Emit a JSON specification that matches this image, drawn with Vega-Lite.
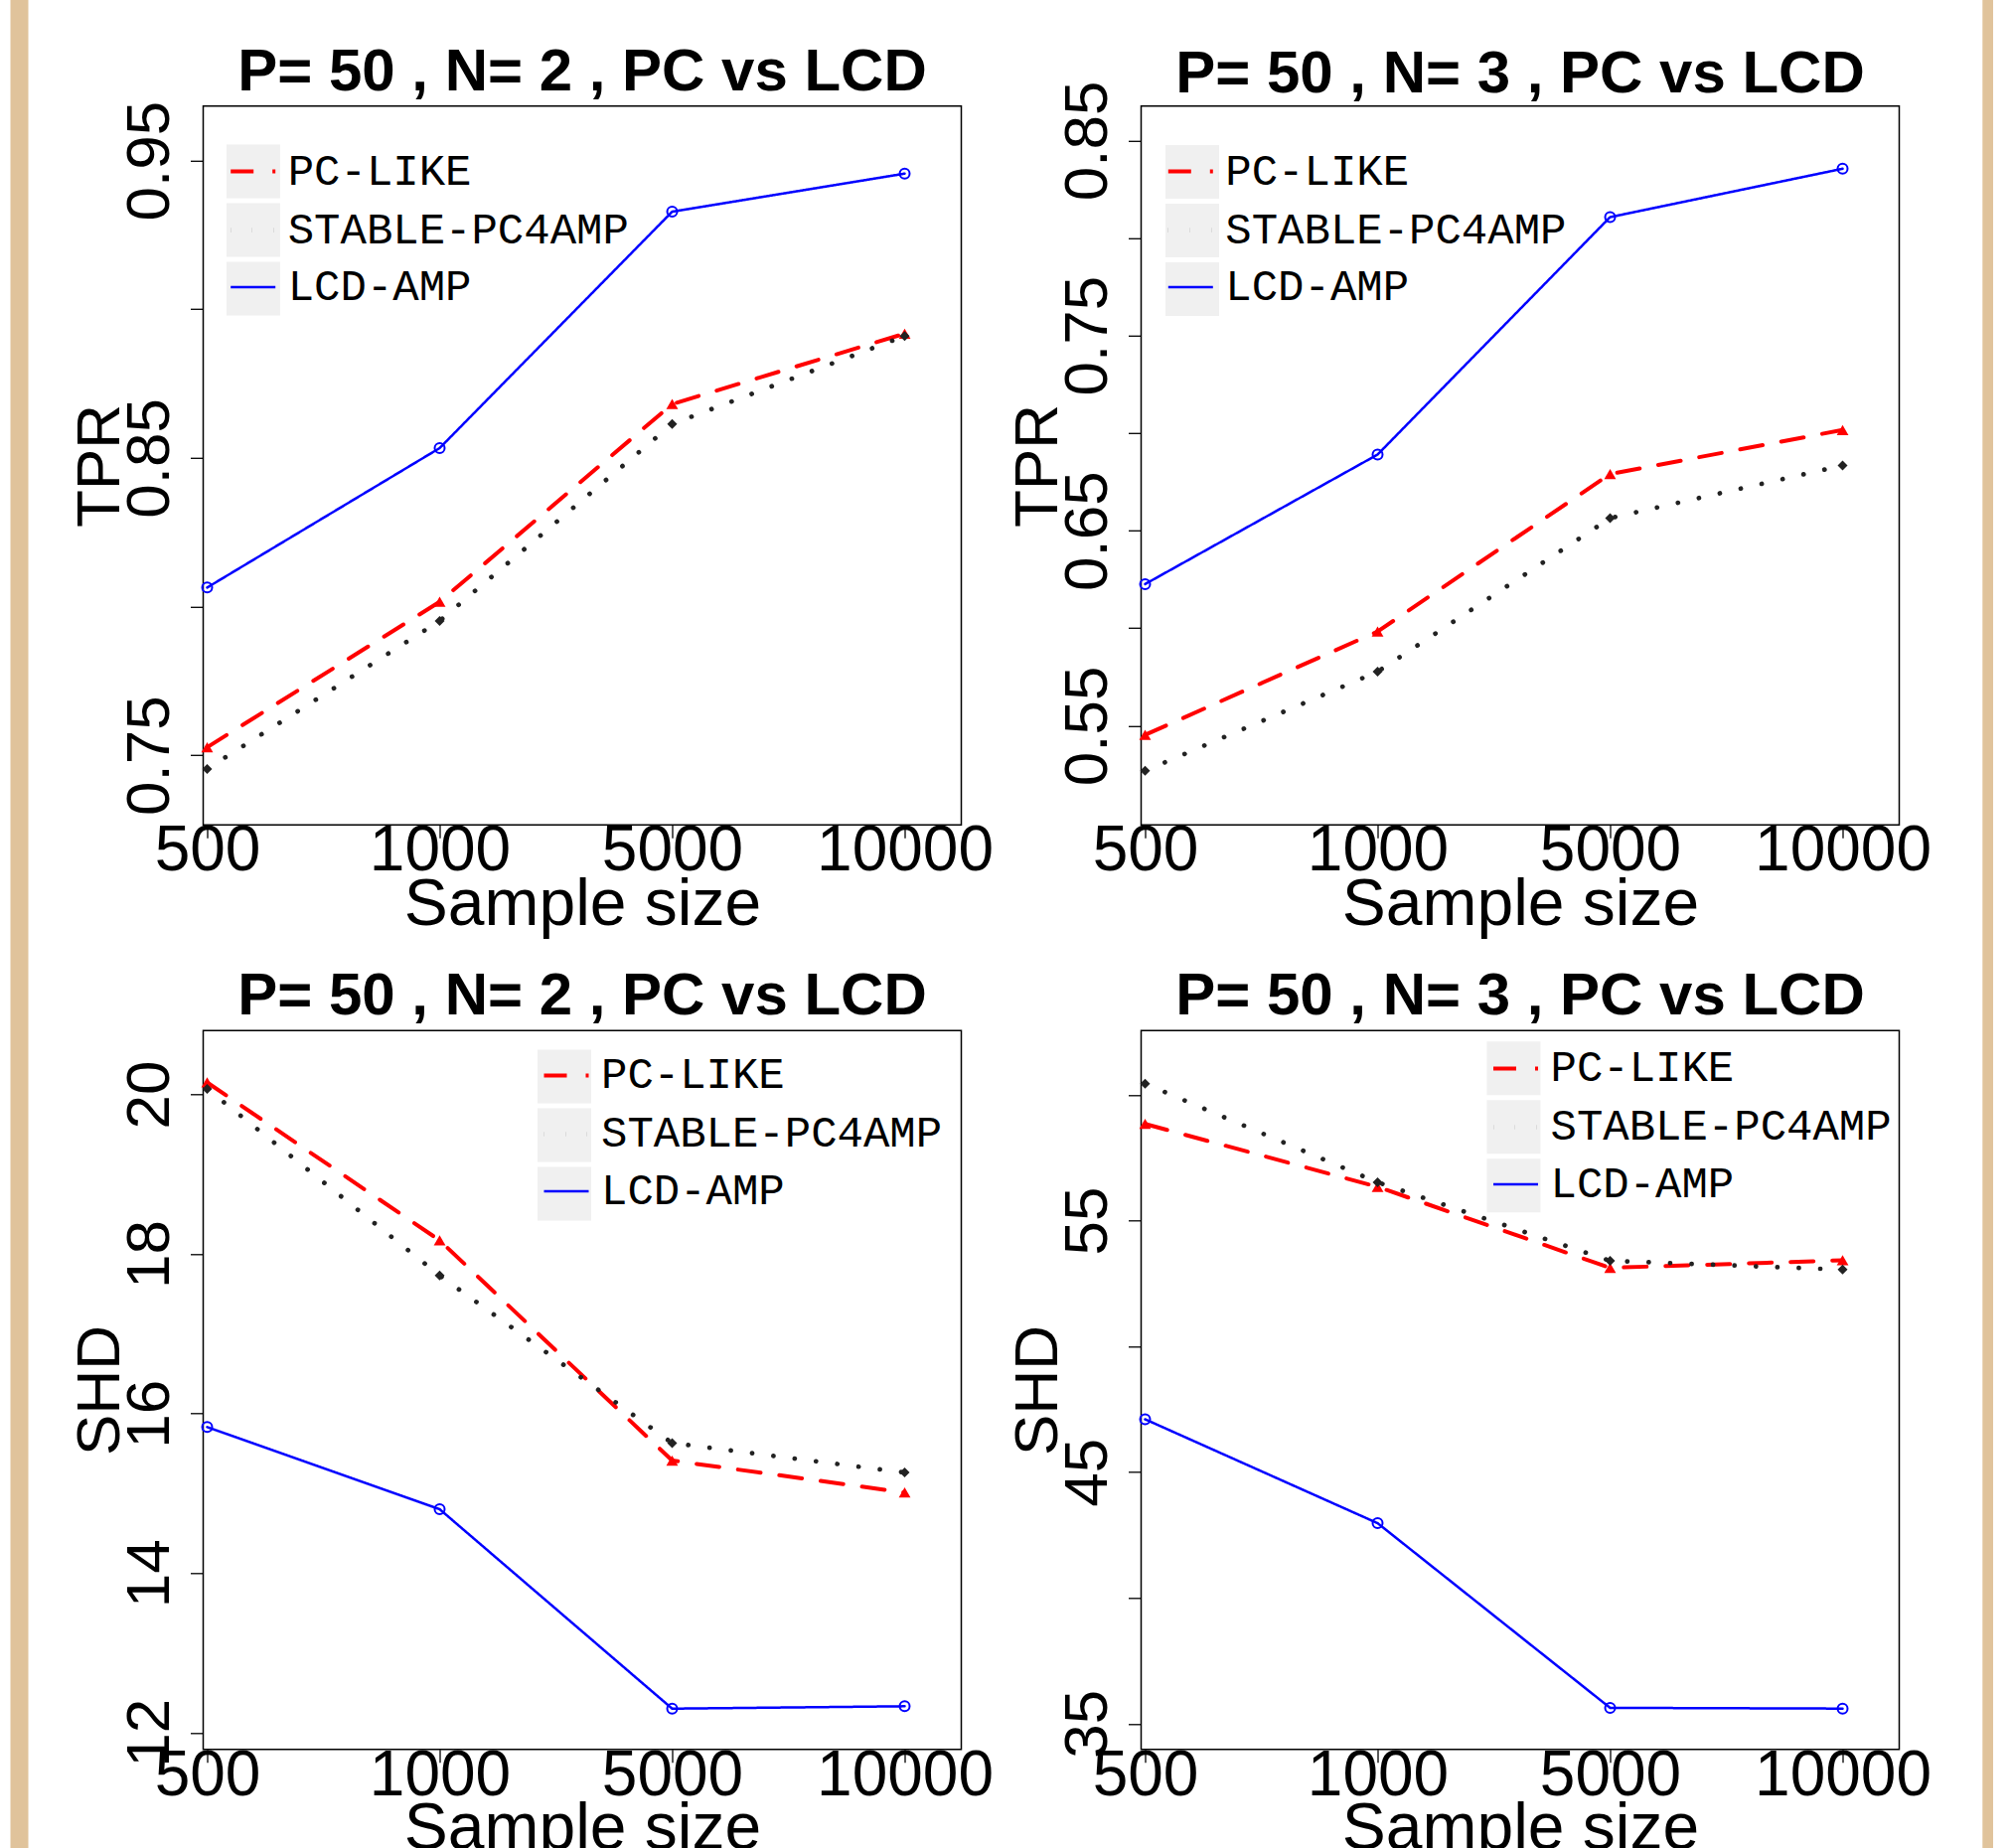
{
  "$schema": "https://vega.github.io/schema/vega-lite/v6.json",
  "padding": {"left": 17.5, "top": 41.8, "right": 0, "bottom": 0},
  "background": "white",
  "datasets": {
    "tpr2": [
      {"size": 500, "method": "PC-LIKE", "value": 0.7527},
      {"size": 1000, "method": "PC-LIKE", "value": 0.8016},
      {"size": 5000, "method": "PC-LIKE", "value": 0.8681},
      {"size": 10000, "method": "PC-LIKE", "value": 0.8918},
      {"size": 500, "method": "STABLE-PC4AMP", "value": 0.7454},
      {"size": 1000, "method": "STABLE-PC4AMP", "value": 0.7952},
      {"size": 5000, "method": "STABLE-PC4AMP", "value": 0.8614},
      {"size": 10000, "method": "STABLE-PC4AMP", "value": 0.8910},
      {"size": 500, "method": "LCD-AMP", "value": 0.8064},
      {"size": 1000, "method": "LCD-AMP", "value": 0.8533},
      {"size": 5000, "method": "LCD-AMP", "value": 0.9328},
      {"size": 10000, "method": "LCD-AMP", "value": 0.9456}
    ],
    "tpr3": [
      {"size": 500, "method": "PC-LIKE", "value": 0.5453},
      {"size": 1000, "method": "PC-LIKE", "value": 0.5983},
      {"size": 5000, "method": "PC-LIKE", "value": 0.6790},
      {"size": 10000, "method": "PC-LIKE", "value": 0.7016},
      {"size": 500, "method": "STABLE-PC4AMP", "value": 0.5269},
      {"size": 1000, "method": "STABLE-PC4AMP", "value": 0.5777},
      {"size": 5000, "method": "STABLE-PC4AMP", "value": 0.6564},
      {"size": 10000, "method": "STABLE-PC4AMP", "value": 0.6834},
      {"size": 500, "method": "LCD-AMP", "value": 0.6226},
      {"size": 1000, "method": "LCD-AMP", "value": 0.6890},
      {"size": 5000, "method": "LCD-AMP", "value": 0.8107},
      {"size": 10000, "method": "LCD-AMP", "value": 0.8355}
    ],
    "shd2": [
      {"size": 500, "method": "PC-LIKE", "value": 20.15},
      {"size": 1000, "method": "PC-LIKE", "value": 18.17},
      {"size": 5000, "method": "PC-LIKE", "value": 15.41},
      {"size": 10000, "method": "PC-LIKE", "value": 15.01},
      {"size": 500, "method": "STABLE-PC4AMP", "value": 20.07},
      {"size": 1000, "method": "STABLE-PC4AMP", "value": 17.73},
      {"size": 5000, "method": "STABLE-PC4AMP", "value": 15.63},
      {"size": 10000, "method": "STABLE-PC4AMP", "value": 15.26},
      {"size": 500, "method": "LCD-AMP", "value": 15.83},
      {"size": 1000, "method": "LCD-AMP", "value": 14.80},
      {"size": 5000, "method": "LCD-AMP", "value": 12.30},
      {"size": 10000, "method": "LCD-AMP", "value": 12.33}
    ],
    "shd3": [
      {"size": 500, "method": "PC-LIKE", "value": 58.84},
      {"size": 1000, "method": "PC-LIKE", "value": 56.34},
      {"size": 5000, "method": "PC-LIKE", "value": 53.12},
      {"size": 10000, "method": "PC-LIKE", "value": 53.42},
      {"size": 500, "method": "STABLE-PC4AMP", "value": 60.44},
      {"size": 1000, "method": "STABLE-PC4AMP", "value": 56.52},
      {"size": 5000, "method": "STABLE-PC4AMP", "value": 53.40},
      {"size": 10000, "method": "STABLE-PC4AMP", "value": 53.05},
      {"size": 500, "method": "LCD-AMP", "value": 47.10},
      {"size": 1000, "method": "LCD-AMP", "value": 42.97},
      {"size": 5000, "method": "LCD-AMP", "value": 35.63},
      {"size": 10000, "method": "LCD-AMP", "value": 35.60}
    ]
  },
  "columns": 2,
  "spacing": {"row": 206.5, "column": 181},
  "bounds": "flush",
  "resolve": {
    "scale": {"fill": "independent", "stroke": "independent", "strokeDash": "independent", "strokeWidth": "independent"},
    "legend": {"fill": "independent", "stroke": "independent", "strokeDash": "independent"}
  },
  "concat": [
    {
      "width": 763, "height": 723.4,
      "title": {"text": "P= 50 , N= 2 , PC vs LCD", "offset": -5.5},
      "data": {"name": "tpr2"},
      "layer": [
        {
          "encoding": {
            "x": {"field": "size", "type": "ordinal", "scale": {"type": "point", "domain": [500, 1000, 5000, 10000], "padding": 0.1303, "align": 0.0656}, "axis": {"title": "Sample size"}},
            "y": {"field": "value", "type": "quantitative", "scale": {"domain": [0.7266, 0.9683], "nice": false, "zero": false}, "axis": {"title": "TPR", "values": [0.75, 0.8, 0.85, 0.9, 0.95], "format": ".2f", "labelExpr": "indexof(['0.75','0.85','0.95'], datum.label) >= 0 ? datum.label : ''"}}
          },
          "layer": [
            {"transform": [{"filter": "false"}], "mark": {"type": "square"}, "encoding": {"fill": {"field": "box", "type": "nominal", "scale": {"domain": ["g1", "g2", "g3"], "range": ["#F0F0F0", "#F0F0F0", "#F0F0F0"]}, "legend": {"title": null, "legendX": 23.4, "legendY": 38.7, "symbolType": "square", "symbolSize": 2916, "symbolStrokeWidth": 0, "symbolOpacity": 1, "rowPadding": 5, "labelExpr": "''", "labelFontSize": 1, "labelOffset": 0}}}},
            {"mark": {"type": "line", "strokeCap": "round", "strokeJoin": "round"}, "encoding": {
              "stroke": {"field": "method", "type": "nominal", "scale": {"domain": ["PC-LIKE", "STABLE-PC4AMP", "LCD-AMP"], "range": ["#FF0000", "#222222", "#0000FF"]}, "legend": {"title": null, "legendX": 25.2, "legendY": 41.3, "symbolType": "stroke", "symbolSize": 2025, "symbolStrokeWidth": 4, "rowPadding": 11.5, "labelOffset": 10, "encoding": {"symbols": {"update": {"strokeCap": {"value": "round"}}}}}},
              "strokeDash": {"field": "method", "type": "nominal", "scale": {"domain": ["PC-LIKE", "STABLE-PC4AMP", "LCD-AMP"], "range": [[23, 19], [0.1, 21.5], [1, 0]]}, "legend": {"title": null, "legendX": 25.2, "legendY": 41.3, "symbolType": "stroke", "symbolSize": 2025, "symbolStrokeWidth": 4, "rowPadding": 11.5, "labelOffset": 10, "encoding": {"symbols": {"update": {"strokeCap": {"value": "round"}}}}}},
              "strokeWidth": {"field": "method", "type": "ordinal", "scale": {"type": "ordinal", "domain": ["PC-LIKE", "STABLE-PC4AMP", "LCD-AMP"], "range": [4, 4.7, 2.5]}, "legend": null}
            }},
            {"transform": [{"filter": "datum.method === 'PC-LIKE'"}], "mark": {"type": "point", "shape": "triangle-up", "filled": true, "fill": "#FF0000", "strokeWidth": 0, "size": 140, "opacity": 1}},
            {"transform": [{"filter": "datum.method === 'STABLE-PC4AMP'"}], "mark": {"type": "point", "shape": "diamond", "filled": true, "fill": "#222222", "strokeWidth": 0, "size": 100, "opacity": 1}},
            {"transform": [{"filter": "datum.method === 'LCD-AMP'"}], "mark": {"type": "point", "shape": "circle", "filled": false, "stroke": "#0000FF", "strokeWidth": 2, "size": 100, "opacity": 1}}
          ]
        },
        {
          "mark": {"type": "point", "opacity": 0},
          "encoding": {
            "x": {"field": "size", "type": "ordinal", "scale": {"type": "point", "domain": [500, 1000, 5000, 10000], "padding": 0.1303, "align": 0.0656}, "axis": {"title": "Sample size"}},
            "y": {"field": "value", "type": "quantitative", "scale": {"domain": [0, 1], "range": [1760, -107.3], "nice": false, "zero": false}, "axis": {"orient": "left", "offset": 185.5, "domain": true, "domainColor": "#E0C39B", "domainWidth": 18, "domainCap": "butt", "ticks": false, "labels": false, "title": null, "grid": false}}
          }
        }
      ],
      "resolve": {"scale": {"y": "independent"}, "axis": {"y": "independent"}}
    },
    {
      "width": 763, "height": 723.4,
      "title": {"text": "P= 50 , N= 3 , PC vs LCD", "offset": -24.9},
      "data": {"name": "tpr3"},
      "layer": [
        {
          "encoding": {
            "x": {"field": "size", "type": "ordinal", "scale": {"type": "point", "domain": [500, 1000, 5000, 10000], "padding": 0.1303, "align": 0.0656}, "axis": {"title": "Sample size"}},
            "y": {"field": "value", "type": "quantitative", "scale": {"domain": [0.4992, 0.8676], "nice": false, "zero": false}, "axis": {"title": "TPR", "values": [0.55, 0.6, 0.65, 0.7, 0.75, 0.8, 0.85], "format": ".2f", "labelExpr": "indexof(['0.55','0.65','0.75','0.85'], datum.label) >= 0 ? datum.label : ''"}}
          },
          "layer": [
            {"transform": [{"filter": "false"}], "mark": {"type": "square"}, "encoding": {"fill": {"field": "box", "type": "nominal", "scale": {"domain": ["g1", "g2", "g3"], "range": ["#F0F0F0", "#F0F0F0", "#F0F0F0"]}, "legend": {"title": null, "legendX": 24.5, "legendY": 39.3, "symbolType": "square", "symbolSize": 2916, "symbolStrokeWidth": 0, "symbolOpacity": 1, "rowPadding": 5, "labelExpr": "''", "labelFontSize": 1, "labelOffset": 0}}}},
            {"mark": {"type": "line", "strokeCap": "round", "strokeJoin": "round"}, "encoding": {
              "stroke": {"field": "method", "type": "nominal", "scale": {"domain": ["PC-LIKE", "STABLE-PC4AMP", "LCD-AMP"], "range": ["#FF0000", "#222222", "#0000FF"]}, "legend": {"title": null, "legendX": 24.8, "legendY": 41.3, "symbolType": "stroke", "symbolSize": 2025, "symbolStrokeWidth": 4, "rowPadding": 11.5, "labelOffset": 10, "encoding": {"symbols": {"update": {"strokeCap": {"value": "round"}}}}}},
              "strokeDash": {"field": "method", "type": "nominal", "scale": {"domain": ["PC-LIKE", "STABLE-PC4AMP", "LCD-AMP"], "range": [[23, 19], [0.1, 21.5], [1, 0]]}, "legend": {"title": null, "legendX": 24.8, "legendY": 41.3, "symbolType": "stroke", "symbolSize": 2025, "symbolStrokeWidth": 4, "rowPadding": 11.5, "labelOffset": 10, "encoding": {"symbols": {"update": {"strokeCap": {"value": "round"}}}}}},
              "strokeWidth": {"field": "method", "type": "ordinal", "scale": {"type": "ordinal", "domain": ["PC-LIKE", "STABLE-PC4AMP", "LCD-AMP"], "range": [4, 4.7, 2.5]}, "legend": null}
            }},
            {"transform": [{"filter": "datum.method === 'PC-LIKE'"}], "mark": {"type": "point", "shape": "triangle-up", "filled": true, "fill": "#FF0000", "strokeWidth": 0, "size": 140, "opacity": 1}},
            {"transform": [{"filter": "datum.method === 'STABLE-PC4AMP'"}], "mark": {"type": "point", "shape": "diamond", "filled": true, "fill": "#222222", "strokeWidth": 0, "size": 100, "opacity": 1}},
            {"transform": [{"filter": "datum.method === 'LCD-AMP'"}], "mark": {"type": "point", "shape": "circle", "filled": false, "stroke": "#0000FF", "strokeWidth": 2, "size": 100, "opacity": 1}}
          ]
        },
        {
          "mark": {"type": "point", "opacity": 0},
          "encoding": {
            "x": {"field": "size", "type": "ordinal", "scale": {"type": "point", "domain": [500, 1000, 5000, 10000], "padding": 0.1303, "align": 0.0656}, "axis": {"title": "Sample size"}},
            "y": {"field": "value", "type": "quantitative", "scale": {"domain": [0, 1], "range": [1760, -107.3], "nice": false, "zero": false}, "axis": {"orient": "right", "offset": 92.3, "domain": true, "domainColor": "#E0C39B", "domainWidth": 18, "domainCap": "butt", "ticks": false, "labels": false, "title": null, "grid": false}}
          }
        }
      ],
      "resolve": {"scale": {"y": "independent"}, "axis": {"y": "independent"}}
    },
    {
      "width": 763, "height": 723.4,
      "title": {"text": "P= 50 , N= 2 , PC vs LCD", "offset": 3},
      "data": {"name": "shd2"},
      "encoding": {
        "x": {"field": "size", "type": "ordinal", "scale": {"type": "point", "domain": [500, 1000, 5000, 10000], "padding": 0.1303, "align": 0.0656}, "axis": {"title": "Sample size"}},
        "y": {"field": "value", "type": "quantitative", "scale": {"domain": [11.79, 20.8], "nice": false, "zero": false}, "axis": {"title": "SHD", "values": [12, 14, 16, 18, 20], "format": "d"}}
      },
      "layer": [
        {"transform": [{"filter": "false"}], "mark": {"type": "square"}, "encoding": {"fill": {"field": "box", "type": "nominal", "scale": {"domain": ["g1", "g2", "g3"], "range": ["#F0F0F0", "#F0F0F0", "#F0F0F0"]}, "legend": {"title": null, "legendX": 336.5, "legendY": 19.2, "symbolType": "square", "symbolSize": 2916, "symbolStrokeWidth": 0, "symbolOpacity": 1, "rowPadding": 5, "labelExpr": "''", "labelFontSize": 1, "labelOffset": 0}}}},
        {"mark": {"type": "line", "strokeCap": "round", "strokeJoin": "round"}, "encoding": {
          "stroke": {"field": "method", "type": "nominal", "scale": {"domain": ["PC-LIKE", "STABLE-PC4AMP", "LCD-AMP"], "range": ["#FF0000", "#222222", "#0000FF"]}, "legend": {"title": null, "legendX": 340.5, "legendY": 20.7, "symbolType": "stroke", "symbolSize": 2025, "symbolStrokeWidth": 4, "rowPadding": 11.5, "labelOffset": 10, "encoding": {"symbols": {"update": {"strokeCap": {"value": "round"}}}}}},
          "strokeDash": {"field": "method", "type": "nominal", "scale": {"domain": ["PC-LIKE", "STABLE-PC4AMP", "LCD-AMP"], "range": [[23, 19], [0.1, 21.5], [1, 0]]}, "legend": {"title": null, "legendX": 340.5, "legendY": 20.7, "symbolType": "stroke", "symbolSize": 2025, "symbolStrokeWidth": 4, "rowPadding": 11.5, "labelOffset": 10, "encoding": {"symbols": {"update": {"strokeCap": {"value": "round"}}}}}},
          "strokeWidth": {"field": "method", "type": "ordinal", "scale": {"type": "ordinal", "domain": ["PC-LIKE", "STABLE-PC4AMP", "LCD-AMP"], "range": [4, 4.7, 2.5]}, "legend": null}
        }},
        {"transform": [{"filter": "datum.method === 'PC-LIKE'"}], "mark": {"type": "point", "shape": "triangle-up", "filled": true, "fill": "#FF0000", "strokeWidth": 0, "size": 140, "opacity": 1}},
        {"transform": [{"filter": "datum.method === 'STABLE-PC4AMP'"}], "mark": {"type": "point", "shape": "diamond", "filled": true, "fill": "#222222", "strokeWidth": 0, "size": 100, "opacity": 1}},
        {"transform": [{"filter": "datum.method === 'LCD-AMP'"}], "mark": {"type": "point", "shape": "circle", "filled": false, "stroke": "#0000FF", "strokeWidth": 2, "size": 100, "opacity": 1}}
      ]
    },
    {
      "width": 763, "height": 723.4,
      "title": {"text": "P= 50 , N= 3 , PC vs LCD", "offset": 3},
      "data": {"name": "shd3"},
      "encoding": {
        "x": {"field": "size", "type": "ordinal", "scale": {"type": "point", "domain": [500, 1000, 5000, 10000], "padding": 0.1303, "align": 0.0656}, "axis": {"title": "Sample size"}},
        "y": {"field": "value", "type": "quantitative", "scale": {"domain": [33.98, 62.55], "nice": false, "zero": false}, "axis": {"title": "SHD", "values": [35, 40, 45, 50, 55, 60], "format": "d", "labelExpr": "indexof(['35','45','55'], datum.label) >= 0 ? datum.label : ''"}}
      },
      "layer": [
        {"transform": [{"filter": "false"}], "mark": {"type": "square"}, "encoding": {"fill": {"field": "box", "type": "nominal", "scale": {"domain": ["g1", "g2", "g3"], "range": ["#F0F0F0", "#F0F0F0", "#F0F0F0"]}, "legend": {"title": null, "legendX": 348, "legendY": 11, "symbolType": "square", "symbolSize": 2916, "symbolStrokeWidth": 0, "symbolOpacity": 1, "rowPadding": 5, "labelExpr": "''", "labelFontSize": 1, "labelOffset": 0}}}},
        {"mark": {"type": "line", "strokeCap": "round", "strokeJoin": "round"}, "encoding": {
          "stroke": {"field": "method", "type": "nominal", "scale": {"domain": ["PC-LIKE", "STABLE-PC4AMP", "LCD-AMP"], "range": ["#FF0000", "#222222", "#0000FF"]}, "legend": {"title": null, "legendX": 352, "legendY": 13.7, "symbolType": "stroke", "symbolSize": 2025, "symbolStrokeWidth": 4, "rowPadding": 11.5, "labelOffset": 10, "encoding": {"symbols": {"update": {"strokeCap": {"value": "round"}}}}}},
          "strokeDash": {"field": "method", "type": "nominal", "scale": {"domain": ["PC-LIKE", "STABLE-PC4AMP", "LCD-AMP"], "range": [[23, 19], [0.1, 21.5], [1, 0]]}, "legend": {"title": null, "legendX": 352, "legendY": 13.7, "symbolType": "stroke", "symbolSize": 2025, "symbolStrokeWidth": 4, "rowPadding": 11.5, "labelOffset": 10, "encoding": {"symbols": {"update": {"strokeCap": {"value": "round"}}}}}},
          "strokeWidth": {"field": "method", "type": "ordinal", "scale": {"type": "ordinal", "domain": ["PC-LIKE", "STABLE-PC4AMP", "LCD-AMP"], "range": [4, 4.7, 2.5]}, "legend": null}
        }},
        {"transform": [{"filter": "datum.method === 'PC-LIKE'"}], "mark": {"type": "point", "shape": "triangle-up", "filled": true, "fill": "#FF0000", "strokeWidth": 0, "size": 140, "opacity": 1}},
        {"transform": [{"filter": "datum.method === 'STABLE-PC4AMP'"}], "mark": {"type": "point", "shape": "diamond", "filled": true, "fill": "#222222", "strokeWidth": 0, "size": 100, "opacity": 1}},
        {"transform": [{"filter": "datum.method === 'LCD-AMP'"}], "mark": {"type": "point", "shape": "circle", "filled": false, "stroke": "#0000FF", "strokeWidth": 2, "size": 100, "opacity": 1}}
      ]
    }
  ],
  "config": {
    "font": "Liberation Sans",
    "view": {"stroke": "black", "strokeWidth": 1.5},
    "title": {"font": "Liberation Sans", "fontSize": 60, "fontWeight": "bold", "color": "black", "anchor": "middle", "frame": "group", "baseline": "alphabetic"},
    "axis": {"labelFont": "Liberation Sans", "labelFontSize": 64, "labelColor": "black", "titleFont": "Liberation Sans", "titleFontSize": 64, "titleFontWeight": "normal", "titleColor": "black", "tickColor": "black", "tickSize": 13, "tickWidth": 1.3, "domain": false, "grid": false, "labelOverlap": false, "labelBound": false, "labelFlush": false},
    "axisX": {"labelAngle": 0, "labelAlign": "center", "labelBaseline": "alphabetic", "labelPadding": 32.5, "titleFontSize": 66, "titleY": 100, "titleBaseline": "alphabetic", "titleAlign": "center"},
    "axisY": {"labelAngle": 270, "labelAlign": "center", "labelBaseline": "alphabetic", "labelFontSize": 62, "labelPadding": 22.3, "titleAngle": 270, "titleFontSize": 62, "titleX": -85, "titleBaseline": "alphabetic", "titleAlign": "center"},
    "legend": {"orient": "none", "padding": 0, "offset": 0, "labelFont": "Liberation Mono", "labelFontSize": 44, "labelColor": "black", "labelLimit": 0}
  }
}
